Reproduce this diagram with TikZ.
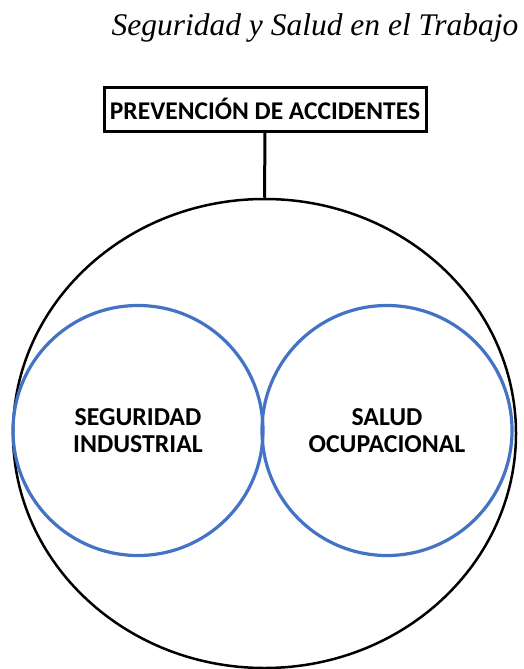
\documentclass[tikz,border=0pt]{standalone}
\usepackage{fontspec}
\setmainfont{Liberation Serif}
\newfontfamily\carlito{Carlito}
\usetikzlibrary{shapes.geometric}
\definecolor{officeblue}{HTML}{4472C4}

\tikzset{
  rama/.style={draw=officeblue, circle, line width=3.2pt, minimum size=250, inner sep=0, align=center,
    font=\carlito\bfseries\fontsize{25.8}{27}\selectfont}
}

\begin{document}
\begin{tikzpicture}[x=1pt, y=-1pt]
\useasboundingbox (0,0) rectangle (523,669);
\node[font=\itshape\fontsize{31.5}{38}\selectfont, anchor=base] (titulo) at (315,36) {Seguridad y Salud en el Trabajo};
\node[draw, line width=3pt, minimum width=322, minimum height=44, font=\carlito\bfseries\fontsize{25.5}{28}\selectfont] (prev) at (265,109) {PREVENCIÓN DE ACCIDENTES};
\node[draw, ellipse, line width=2.5pt, minimum width=503, minimum height=469, inner sep=0] (todo) at (264.5,433.5) {};
\draw[line width=3pt] (prev.south) -- (todo.north);
% las dos ramas
\node[rama] (seg) at (138,430.5) {SEGURIDAD\\INDUSTRIAL};
\node[rama] (sal) at (387,430.5) {SALUD\\OCUPACIONAL};
\end{tikzpicture}
\end{document}
